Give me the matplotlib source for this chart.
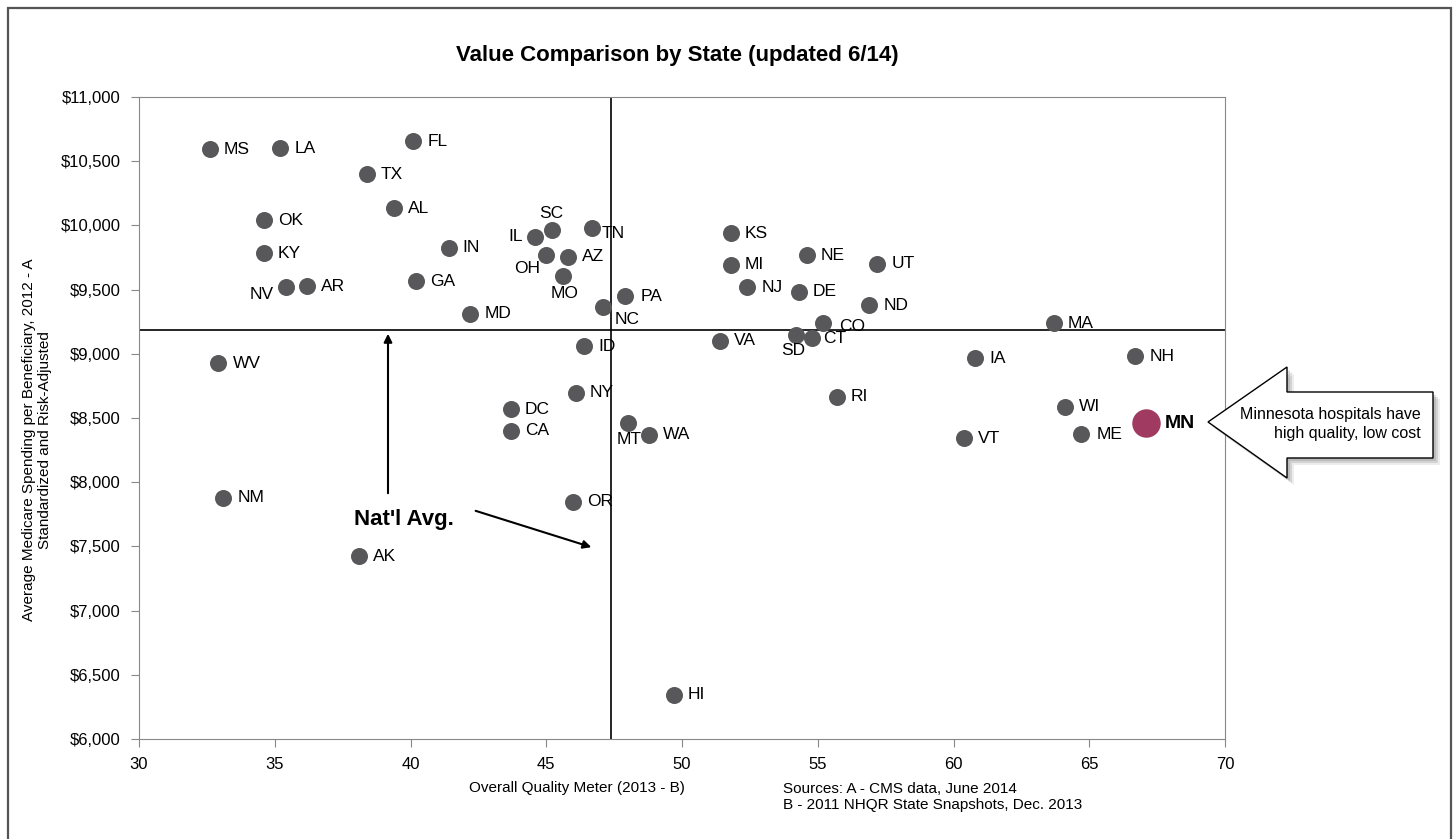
import numpy as np
import matplotlib.pyplot as plt
from matplotlib.patches import Polygon, Rectangle

plt.rcParams['font.family'] = ['Liberation Sans', 'DejaVu Sans']

states = ['MS', 'LA', 'FL', 'TX', 'AL', 'OK', 'KY', 'NV', 'AR', 'GA', 'IN', 'MD',
          'WV', 'NM', 'AK', 'IL', 'SC', 'TN', 'OH', 'AZ', 'MO', 'PA', 'NC', 'ID',
          'NY', 'DC', 'CA', 'MT', 'WA', 'OR', 'HI', 'KS', 'MI', 'NJ', 'NE', 'DE',
          'UT', 'ND', 'CO', 'SD', 'CT', 'VA', 'RI', 'IA', 'MA', 'NH', 'WI', 'ME',
          'VT', 'MN']
quality = [32.6, 35.2, 40.1, 38.4, 39.4, 34.6, 34.6, 35.4, 36.2, 40.2, 41.4, 42.2,
           32.9, 33.1, 38.1, 44.6, 45.2, 46.7, 45.0, 45.8, 45.6, 47.9, 47.1, 46.4,
           46.1, 43.7, 43.7, 48.0, 48.8, 46.0, 49.7, 51.8, 51.8, 52.4, 54.6, 54.3,
           57.2, 56.9, 55.2, 54.2, 54.8, 51.4, 55.7, 60.8, 63.7, 66.7, 64.1, 64.7,
           60.4, 67.1]
spending = [10595, 10600, 10655, 10400, 10135, 10040, 9785, 9520, 9528, 9565, 9825, 9310,
            8930, 7877, 7425, 9910, 9962, 9980, 9770, 9755, 9605, 9450, 9365, 9060,
            8695, 8570, 8400, 8462, 8368, 7846, 6345, 9940, 9692, 9520, 9768, 9482,
            9700, 9380, 9240, 9146, 9123, 9100, 8664, 8966, 9238, 8982, 8587, 8377,
            8344, 8460]
nat_avg_quality = 47.38
nat_avg_spending = 9185

W, H = 1453, 839

# non-default label placements: (dx px, dy px, ha)
label_pos = {
    'NV': (-12, -7, 'right'), 'IL': (-13, 0, 'right'), 'SC': (0, 17, 'center'),
    'OH': (-6, -14, 'right'), 'MO': (2, -17, 'center'), 'NC': (11, -13, 'left'),
    'TN': (9, -6, 'left'), 'MT': (1, -17, 'center'), 'SD': (-3, -15, 'center'),
    'CO': (16, -4, 'left'), 'CT': (11, 0, 'left'), 'ME': (16, -1, 'left'),
    'PA': (16, 0, 'left'), 'WV': (15, -1, 'left'),
}

fig = plt.figure(figsize=(W / 100, H / 100), dpi=100)
ax = fig.add_axes([139 / W, 1 - 739 / H, (1225 - 139) / W, (739 - 97) / H])


def px(x, y):
    return (x / W, 1 - y / H)


# outer frame (bottom edge runs off the picture)
fig.patches.append(Rectangle(px(8, 850), (1451 - 8) / W, (850 - 8) / H,
                             transform=fig.transFigure, fill=False,
                             edgecolor='#555555', lw=1.6))

q = np.array(quality)
s = np.array(spending)
is_mn = np.array([st == 'MN' for st in states])
ax.scatter(q[~is_mn], s[~is_mn], s=150, color='#58585a', zorder=3, linewidths=0)
ax.scatter(q[is_mn], s[is_mn], s=420, color='#a03a60', zorder=3, linewidths=0)

for st, x, y in zip(states, quality, spending):
    dx, dy, ha = label_pos.get(st, (14, 0, 'left'))
    if st == 'MN':
        ax.annotate(st, (x, y), xytext=(18, 0), textcoords='offset pixels',
                    ha='left', va='center', fontsize=14, fontweight='bold')
    else:
        ax.annotate(st, (x, y), xytext=(dx, dy), textcoords='offset pixels',
                    ha=ha, va='center', fontsize=12.5)

ax.axvline(nat_avg_quality, color='black', lw=1.2, zorder=1)
ax.axhline(nat_avg_spending, color='black', lw=1.2, zorder=1)

ax.set_xlim(30, 70)
ax.set_ylim(6000, 11000)
ax.set_xticks(np.arange(30, 71, 5))
ax.set_yticks(np.arange(6000, 11001, 500))
ax.yaxis.set_major_formatter(plt.FuncFormatter(lambda v, p: f'${v:,.0f}'))
ax.tick_params(labelsize=12, color='#888888', length=6, pad=7)
for sp in ax.spines.values():
    sp.set_color('#888888')

# Nat'l Avg annotation
fig.text(*px(354, 520), "Nat'l Avg.", fontsize=16, fontweight='bold', va='center', ha='left')
ax.annotate('', xy=px(388, 331), xycoords='figure fraction',
            xytext=px(388, 496), textcoords='figure fraction',
            arrowprops=dict(arrowstyle='-|>', color='black', lw=1.5, mutation_scale=12))
ax.annotate('', xy=px(594, 548), xycoords='figure fraction',
            xytext=px(473, 510), textcoords='figure fraction',
            arrowprops=dict(arrowstyle='-|>', color='black', lw=1.5, mutation_scale=12))

# callout arrow
arrow_pts = [(1208, 422), (1287, 367), (1287, 392), (1433, 392),
             (1433, 458), (1287, 458), (1287, 478)]
for off, a in [(7, 0.15), (5, 0.25), (3, 0.3)]:
    shadow = Polygon([px(x + off, y + off) for x, y in arrow_pts], closed=True,
                     transform=fig.transFigure, facecolor='#888888', edgecolor='none', alpha=a)
    fig.patches.append(shadow)
callout = Polygon([px(x, y) for x, y in arrow_pts], closed=True,
                  transform=fig.transFigure, facecolor='white', edgecolor='black', lw=1.0)
fig.patches.append(callout)
fig.text(*px(1421, 424), 'Minnesota hospitals have\nhigh quality, low cost',
         ha='right', va='center', fontsize=11.5, linespacing=1.3)

fig.text(*px(677, 55), 'Value Comparison by State (updated 6/14)',
         ha='center', va='center', fontsize=16, fontweight='bold')
fig.text(*px(577, 788), 'Overall Quality Meter (2013 - B)', ha='center', va='center', fontsize=11)
fig.text(*px(783, 797), 'Sources: A - CMS data, June 2014\nB - 2011 NHQR State Snapshots, Dec. 2013',
         ha='left', va='center', fontsize=11, linespacing=1.2)
fig.text(*px(37, 440), 'Average Medicare Spending per Beneficiary, 2012 - A\nStandardized and Risk-Adjusted',
         ha='center', va='center', rotation=90, fontsize=11, linespacing=1.15)

fig.savefig('out.png', dpi=100)
